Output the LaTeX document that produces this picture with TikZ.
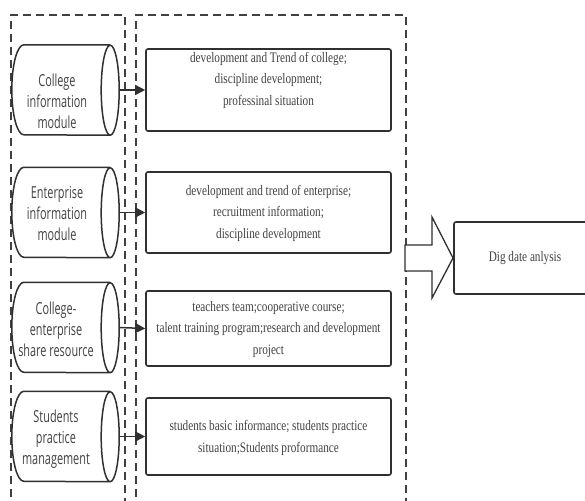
\documentclass[tikz,border=0pt]{standalone}
\usepackage{fontspec}
\setmainfont{Liberation Serif}[FakeStretch=0.775]
\newfontfamily\cylfont{Open Sans}[FakeStretch=0.66]
\usetikzlibrary{arrows.meta}
\definecolor{linegrey}{HTML}{303030}
\definecolor{dashgrey}{HTML}{404040}
\definecolor{textgrey}{HTML}{424242}
\begin{document}
\begin{tikzpicture}[x=1pt,y=-1pt,
  cylbox/.style={minimum width=107pt, minimum height=90pt, inner sep=0pt},
  cylline/.style={draw=linegrey, line width=1.5pt, fill=white},
  cyltext/.style={font=\cylfont\fontsize{16.5}{21}\selectfont, text=textgrey, align=center, inner sep=0pt},
  rectbox/.style={draw=linegrey, line width=1.6pt, rounded corners=2pt, minimum width=245pt, inner sep=0pt, fill=white},
  rtext/.style={font=\fontsize{14.5}{21.5}\selectfont, text=textgrey, align=center, inner sep=0pt},
  conn/.style={draw=linegrey, line width=1.5pt, -{Triangle[length=10pt,width=10pt]}},
  dashbox/.style={draw=dashgrey, line width=1.4pt, dash pattern=on 8pt off 5pt},
  blockarrow/.style={draw=linegrey, line width=1.3pt, fill=white, line join=miter}
]
\useasboundingbox (0,0) rectangle (585,500);
\clip (0,0) rectangle (585,500);

% dashed groups
\draw[dashbox] (11,510) -- (11,15) -- (125,15) -- (125,510);
\draw[dashbox] (136,510) -- (136,15) -- (406,15) -- (406,510);

% cylinders
\node[cylbox] (c1) at (65.5,90) {};
\node[cylbox] (c2) at (65.5,212.5) {};
\node[cylbox] (c3) at (65.5,327.5) {};
\node[cylbox] (c4) at (65.5,436.5) {};
\foreach \n in {c1,c2,c3,c4}
  \draw[cylline] ([xshift=-9pt]\n.north east) -- ([xshift=12pt]\n.north west)
    arc[start angle=90,end angle=270,x radius=12pt,y radius=45pt]
    -- ([xshift=-9pt]\n.south east)
    arc[start angle=-90,end angle=90,x radius=9pt,y radius=45pt]
    arc[start angle=90,end angle=270,x radius=9pt,y radius=45pt];
\node[cyltext] (t1) at (57,101) {College\\information\\module};
\node[cyltext] (t2) at (57,214) {Enterprise\\information\\module};
\node[cyltext] (t3) at (56,329) {College-\\enterprise\\share resource};
\node[cyltext] (t4) at (56,439) {Students\\practice\\management};

% content boxes
\node[rectbox, minimum height=82pt] (r1) at (268.5,90) {};
\node[rectbox, minimum height=81pt] (r2) at (268.5,212.5) {};
\node[rectbox, minimum height=75pt] (r3) at (268.5,328.5) {};
\node[rectbox, minimum height=77pt] (r4) at (268.5,436.5) {};
\node[rtext] (s1) at (268.5,80) {development and Trend of college;\\discipline development;\\professinal situation};
\node[rtext] (s2) at (268.5,213) {development and trend of enterprise;\\recruitment information;\\discipline development};
\node[rtext] (s3) at (268.5,329.5) {teachers team;cooperative course;\\talent training program;research and development\\project};
\node[rtext] (s4) at (268.5,438) {students basic informance; students practice\\situation;Students proformance};

% connectors
\draw[conn] (c1.east) -- (r1.west);
\draw[conn] (c2.east) -- (r2.west);
\draw[conn] (c3.east) -- (r3.west);
\draw[conn] (c4.east) -- (r4.west);

% block arrow and result
\draw[blockarrow] (405,245) -- (432,245) -- (432,217) -- (453,258) -- (432,298) -- (432,271) -- (405,271) -- cycle;
\node[rectbox, minimum width=150pt, minimum height=72pt] (dig) at (529,258) {};
\node[rtext] (digt) at (525,258) {Dig date anlysis};
\end{tikzpicture}
\end{document}
